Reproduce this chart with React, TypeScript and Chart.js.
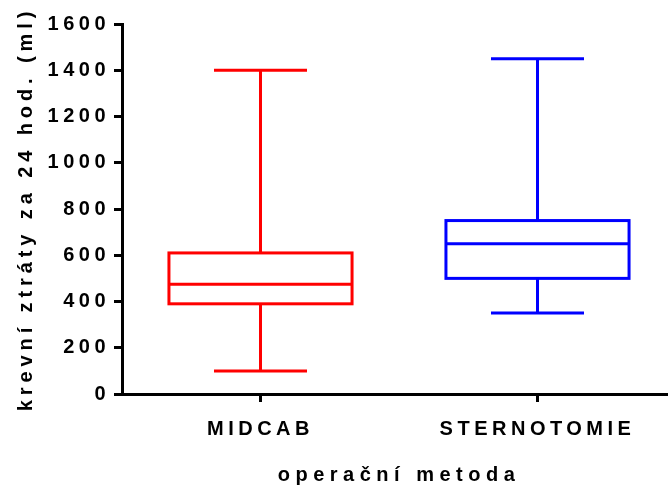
import React, { useEffect, useRef } from 'react';
import { Chart, registerables } from 'chart.js';

Chart.register(...registerables);

const categories = ['MIDCAB', 'STERNOTOMIE'];
const mins = [100, 350];
const q1s = [390, 500];
const medians = [475, 650];
const q3s = [610, 750];
const maxes = [1400, 1450];
const colors = ['#FF0000', '#0000FF'];
const yTitle = 'krevní ztráty za 24 hod. (ml)';
const xTitle = 'operační metoda';

const FAMILY = '"Liberation Sans", Arial, sans-serif';
const TICK_SPACING = '4.5px';
const TITLE_SPACING: Record<string, string> = { x: '5.5px', y: '4.9px' };

const spacingPlugin = {
  id: 'letterSpacing',
  beforeUpdate(chart: any) { chart.ctx.letterSpacing = TICK_SPACING; },
  beforeLayout(chart: any) { chart.ctx.letterSpacing = TICK_SPACING; },
  afterLayout(chart: any) {
    Object.values(chart.scales).forEach((scale: any) => {
      if (scale.__wrapped) return;
      const orig = scale.drawTitle;
      scale.drawTitle = function (...args: any[]) {
        const ctx = this.ctx;
        ctx.letterSpacing = TITLE_SPACING[this.id] || TICK_SPACING;
        orig.apply(this, args);
        ctx.letterSpacing = TICK_SPACING;
      };
      scale.__wrapped = true;
    });
  },
  beforeDraw(chart: any) { chart.ctx.letterSpacing = TICK_SPACING; },
};

const boxPlugin = {
  id: 'boxes',
  afterDatasetsDraw(chart: any) {
    const ctx = chart.ctx;
    const y = chart.scales.y;
    const meta = chart.getDatasetMeta(0);
    meta.data.forEach((bar: any, i: number) => {
      const { x, width } = bar.getProps(['x', 'width'], true);
      const half = width / 2;
      const cap = width * 0.254;
      const yMin = y.getPixelForValue(mins[i]);
      const yQ1 = y.getPixelForValue(q1s[i]);
      const yMed = y.getPixelForValue(medians[i]);
      const yQ3 = y.getPixelForValue(q3s[i]);
      const yMax = y.getPixelForValue(maxes[i]);
      ctx.save();
      ctx.strokeStyle = colors[i];
      ctx.lineWidth = 3;
      ctx.lineCap = 'butt';
      ctx.lineJoin = 'miter';
      ctx.strokeRect(x - half, yQ3, width, yQ1 - yQ3);
      ctx.beginPath();
      ctx.moveTo(x - half, yMed); ctx.lineTo(x + half, yMed);
      ctx.moveTo(x, yQ3); ctx.lineTo(x, yMax);
      ctx.moveTo(x - cap, yMax); ctx.lineTo(x + cap, yMax);
      ctx.moveTo(x, yQ1); ctx.lineTo(x, yMin);
      ctx.moveTo(x - cap, yMin); ctx.lineTo(x + cap, yMin);
      ctx.stroke();
      ctx.restore();
    });
  },
};

export default function App() {
  const ref = useRef<HTMLCanvasElement>(null);
  useEffect(() => {
    if (!ref.current) return;
    const font = { family: FAMILY, size: 20, weight: 'bold' as const };
    const chart = new Chart(ref.current, {
      type: 'bar',
      data: {
        labels: categories,
        datasets: [
          {
            data: q1s.map((v, i) => [v, q3s[i]]) as any,
            backgroundColor: 'rgba(255,255,255,0)',
            borderColor: colors,
            borderWidth: 0,
            borderSkipped: false,
            barPercentage: 0.661,
            categoryPercentage: 1,
          },
        ],
      },
      options: {
        responsive: false,
        animation: false,
        devicePixelRatio: 1,
        layout: { padding: { top: 24, left: 0, right: 0, bottom: 0 } },
        plugins: { legend: { display: false }, tooltip: { enabled: false } },
        scales: {
          x: {
            type: 'category',
            offset: true,
            grid: { display: true, drawOnChartArea: false, offset: false, color: '#000', lineWidth: 3, tickLength: 8 },
            border: { display: true, color: '#000', width: 3 },
            ticks: { color: '#000', font, padding: 15, maxRotation: 0, autoSkip: false },
            title: { display: true, text: xTitle, color: '#000', font, padding: { top: 0, bottom: 8 } },
            afterFit(scale: any) { scale.height = 101; },
          },
          y: {
            min: 0,
            max: 1600,
            grid: { display: true, drawOnChartArea: false, color: '#000', lineWidth: 3, tickLength: 8 },
            border: { display: true, color: '#000', width: 3 },
            ticks: {
              stepSize: 200,
              color: '#000',
              font,
              padding: 4,
              callback: (v: any) => String(v),
            },
            title: { display: true, text: yTitle, color: '#000', font, padding: { top: 14, bottom: 0 } },
            afterFit(scale: any) { scale.width = 122; },
          },
        },
      },
      plugins: [spacingPlugin, boxPlugin],
    });
    return () => chart.destroy();
  }, []);
  return (
    <div style={{ position: 'absolute', left: 0, top: 0, width: 668, height: 495, overflow: 'hidden', background: '#fff' }}>
      <canvas ref={ref} width={676} height={495} style={{ display: 'block' }} />
    </div>
  );
}
